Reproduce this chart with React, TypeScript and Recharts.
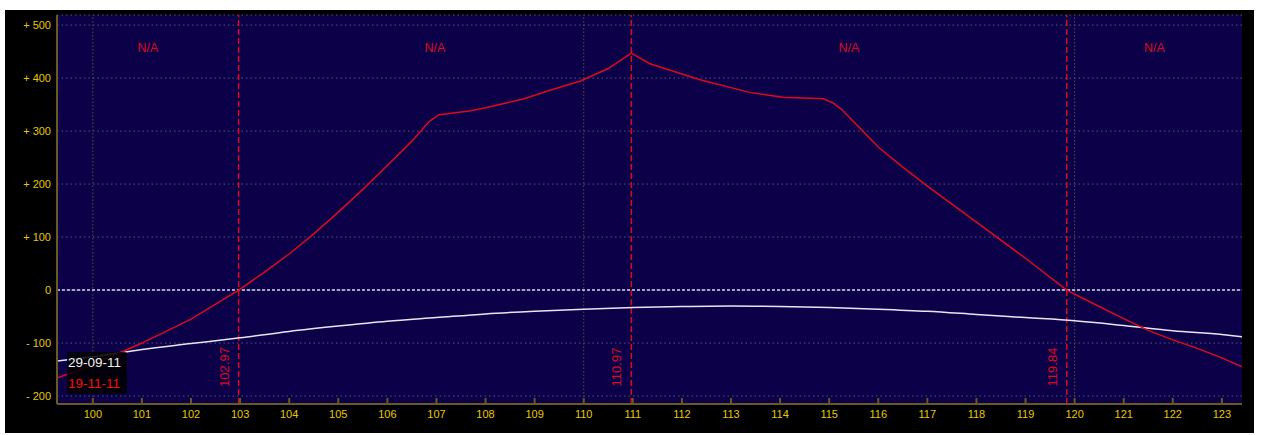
import { FC } from 'react'
import {
    ComposedChart, Line, XAxis, YAxis, CartesianGrid,
    ReferenceLine, ReferenceDot, Legend,
} from 'recharts'

const X_MIN = 99.27
const X_MAX = 123.41
const Y_MIN = -215
const Y_MAX = 519

const xTicks = [100, 101, 102, 103, 104, 105, 106, 107, 108, 109, 110, 111, 112, 113, 114, 115, 116, 117, 118, 119, 120, 121, 122, 123]
const yTicks = [-200, -100, 0, 100, 200, 300, 400, 500]
const gridX = [100, 110, 120]

// break-even / peak markers
const markers = [102.97, 110.97, 119.84]
const markerLabels = ['102.97', '110.97', '119.84']

// "N/A" labels, one per zone between the markers
const naZones = [[X_MIN, 102.97], [102.97, 110.97], [110.97, 119.84], [119.84, X_MAX]]
const naText = 'N/A'

// P&L at 29-09-11
const todayName = '29-09-11'
const todayX = [99.27, 100, 101, 102, 103, 104, 105, 106, 107, 108, 109, 110, 111, 112, 113, 114, 115, 116, 117, 118, 119, 120, 121, 122, 123, 123.41]
const todayPnl = [-134, -126, -112, -101, -90, -78, -68, -59, -52, -45, -40, -36, -33, -31, -30, -31, -33, -36, -40, -46, -52, -58, -67, -77, -84, -88]

// P&L at expiry 19-11-11
const expiryName = '19-11-11'
const expiryX = [99.27, 100, 101, 102, 102.97, 103.5, 104, 104.5, 105, 105.5, 106, 106.5, 106.85, 107.05, 107.67, 108, 108.75, 109.31, 109.92, 110.5, 110.97, 111.35, 112.37, 113.38, 114.06, 114.88, 115.08, 115.25, 115.4, 115.62, 116, 116.5, 117, 117.5, 118, 119, 119.84, 120.5, 121, 121.5, 122, 122.5, 123, 123.41]
const expiryPnl = [-166, -141, -100, -55, 0, 34, 68, 106, 147, 190, 235, 281, 318, 331, 338, 344, 360, 377, 394, 418, 447, 427, 397, 373, 364, 361, 353, 341, 327, 306, 270, 232, 196, 162, 128, 60, 0, -31, -54, -76, -94, -110, -128, -145]

const todayData = todayX.map((x, i) => ({ x, pnl: todayPnl[i] }))
const expiryData = expiryX.map((x, i) => ({ x, pnl: expiryPnl[i] }))
const legendOrder = [todayName, expiryName]

const BG = '#0c0049'
const BORDER = '#6b5a1e'
const YELLOW = '#e8c800'
const RED = '#dc0a1e'
const WHITE = '#e6e6f0'
const FONT = '"Liberation Sans", Arial, sans-serif'
const legendColors: Record<string, string> = { [todayName]: '#f0f0f0', [expiryName]: '#ff0a0a' }

const fmtY = (v: number) => (v > 0 ? `+ ${v}` : v < 0 ? `- ${Math.abs(v)}` : '0')

const BottomTick = (props: any) => {
    const { x, y, payload } = props
    return (
        <g>
            <line x1={x} x2={x} y1={y} y2={y - 6} stroke={BORDER} strokeWidth={2} />
            <text x={x} y={y + 14} textAnchor="middle" fill={YELLOW} fontSize={11} fontFamily={FONT}>
                {payload.value}
            </text>
        </g>
    )
}

const TopTick = (props: any) => {
    const { x, y } = props
    return <line x1={x} x2={x} y1={y} y2={y + 7} stroke={BORDER} strokeWidth={2} />
}

const markerLabel = (text: string) => (props: any) => {
    const { x, y, height } = props.viewBox
    const tx = x - 10
    const ty = y + height - 37
    return (
        <text x={tx} y={ty} transform={`rotate(-90, ${tx}, ${ty})`} textAnchor="middle"
            fill={RED} fontSize={13} fontFamily={FONT}>
            {text}
        </text>
    )
}

const LegendBox = (props: any) => {
    const items = [...(props.payload || [])].sort(
        (a: any, b: any) => legendOrder.indexOf(a.value) - legendOrder.indexOf(b.value))
    return (
        <div style={{ background: 'rgba(0,0,0,0.85)', borderRadius: 2, padding: '0 1px', fontFamily: FONT, fontSize: 13.5, lineHeight: '21px' }}>
            {items.map((p: any) => (
                <div key={p.value} style={{ color: legendColors[p.value] || p.color }}>{p.value}</div>
            ))}
        </div>
    )
}

const App: FC = () => {
    return (
        <div style={{ position: 'absolute', left: 5, top: 10, width: 1249, height: 423, background: '#000', fontFamily: FONT }}>
            <ComposedChart width={1249} height={423} margin={{ top: 5, right: 12, bottom: 0, left: 0 }}>
                <CartesianGrid xAxisId="x" yAxisId="y" vertical={false} fill={BG} fillOpacity={1}
                    stroke="#55557c" strokeDasharray="1.5 3" />
                <XAxis xAxisId="x" dataKey="x" type="number" domain={[X_MIN, X_MAX]} ticks={xTicks}
                    allowDataOverflow interval={0} height={29} tickSize={0} tickMargin={0}
                    axisLine={{ stroke: BORDER, strokeWidth: 2 }} tick={BottomTick} />
                <XAxis xAxisId="xt" orientation="top" dataKey="x" type="number" domain={[X_MIN, X_MAX]}
                    ticks={xTicks} allowDataOverflow interval={0} height={0} tickSize={0} tickMargin={0}
                    axisLine={{ stroke: BORDER, strokeWidth: 2 }} tick={TopTick} />
                <YAxis yAxisId="y" type="number" domain={[Y_MIN, Y_MAX]} ticks={yTicks} allowDataOverflow
                    interval={0} width={52} tickSize={0} tickMargin={6} tickFormatter={fmtY}
                    axisLine={{ stroke: BORDER, strokeWidth: 2 }}
                    tick={{ fill: YELLOW, fontSize: 11, fontFamily: FONT }} />
                <YAxis yAxisId="yr" orientation="right" type="number" domain={[Y_MIN, Y_MAX]} width={0}
                    tick={false} tickLine={false} axisLine={{ stroke: BORDER, strokeWidth: 2 }} />

                {gridX.map(v => (
                    <ReferenceLine key={`g${v}`} xAxisId="x" yAxisId="y" x={v} stroke="#5e4e38" strokeDasharray="1.5 2" />
                ))}
                <ReferenceLine xAxisId="x" yAxisId="y" y={0} stroke="#a4a4c6" strokeWidth={2} strokeDasharray="3 2" />
                {markers.map((v, i) => (
                    <ReferenceLine key={`m${v}`} xAxisId="x" yAxisId="y" x={v} stroke={RED} strokeWidth={1.5}
                        strokeDasharray="6 3" label={markerLabel(markerLabels[i])} />
                ))}
                {naZones.map(([a, b]) => (
                    <ReferenceDot key={`na${a}`} xAxisId="x" yAxisId="y" x={(a + b) / 2} y={457} r={0}
                        fill="none" stroke="none"
                        label={{ value: naText, fill: RED, fontSize: 12.5, fontFamily: FONT, position: 'center' }} />
                ))}

                <Line xAxisId="x" yAxisId="y" data={todayData} dataKey="pnl" name={todayName} type="monotone"
                    stroke={WHITE} strokeWidth={1.5} dot={false} activeDot={false} isAnimationActive={false} />
                <Line xAxisId="x" yAxisId="y" data={expiryData} dataKey="pnl" name={expiryName} type="linear"
                    stroke={RED} strokeWidth={1.5} dot={false} activeDot={false} isAnimationActive={false} />

                <Legend layout="horizontal" align="center" verticalAlign="middle" content={LegendBox}
                    wrapperStyle={{ left: 62, top: 342, width: 60, height: 43, right: 'auto', bottom: 'auto' }} />
            </ComposedChart>
        </div>
    )
}

export default App
